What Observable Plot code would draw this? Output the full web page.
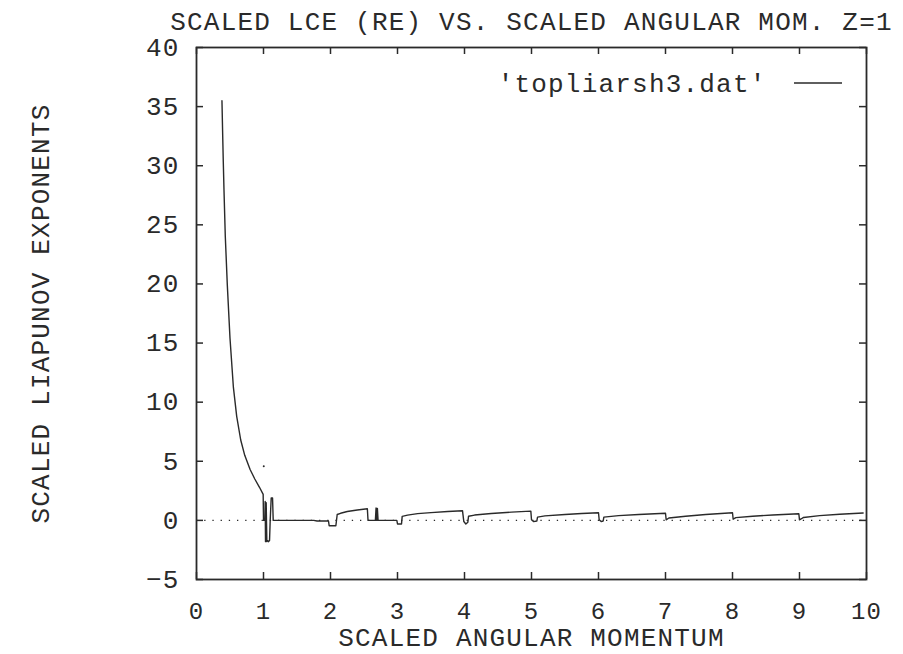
<!DOCTYPE html>
<html>
<head>
<meta charset="utf-8">
<script src="https://cdn.jsdelivr.net/npm/d3@7"></script>
<script src="https://cdn.jsdelivr.net/npm/@observablehq/plot@0.6"></script>
<style>
  body { margin: 0; background: #fff; }
  #chart svg { font-family: "Liberation Mono", "DejaVu Sans Mono", monospace; font-size: 26px; letter-spacing: 1.2px; color: #2a2a2a; }
</style>
</head>
<body>
<div id="chart"></div>
<script>
// Tick values on both axes
const xTicks = [0, 1, 2, 3, 4, 5, 6, 7, 8, 9, 10];
const yTicks = [-5, 0, 5, 10, 15, 20, 25, 30, 35, 40];

// Scaled angular momentum (x) and scaled Liapunov exponent (y), in plotting order
const momentum = [
  0.38, 0.39, 0.40, 0.41, 0.43, 0.46, 0.50, 0.55, 0.60, 0.66, 0.72, 0.80, 0.87, 0.94, 0.995,
  1.000, 1.020, 1.025, 1.030, 1.040, 1.050, 1.060, 1.075, 1.090, 1.100, 1.115, 1.135, 1.145,
  1.75, 1.80, 1.97, 1.98, 2.08, 2.10, 2.15, 2.25, 2.40, 2.55, 2.56, 2.67, 2.68, 2.69, 2.70, 2.71,
  2.99, 3.00, 3.06, 3.07, 3.15, 3.30, 3.50, 3.75, 3.97,
  3.99, 4.02, 4.05, 4.06, 4.15, 4.40, 4.70, 4.99,
  5.00, 5.03, 5.08, 5.09, 5.20, 5.50, 5.75, 6.00,
  6.01, 6.04, 6.07, 6.08, 6.30, 6.60, 7.00,
  7.01, 7.05, 7.30, 7.60, 8.00,
  8.01, 8.05, 8.30, 8.60, 8.99,
  9.00, 9.03, 9.06, 9.30, 9.60, 9.95
];
const lce = [
  35.5, 32.8, 30.3, 28.0, 24.0, 19.9, 15.4, 11.3, 8.8, 6.8, 5.5, 4.3, 3.5, 2.8, 2.2,
  0.0, 0.0, 1.6, -1.8, 1.5, -1.8, -1.7, -1.8, -1.7, 0.0, 1.9, 1.9, 0.0,
  0.0, -0.05, -0.05, -0.45, -0.45, 0.5, 0.6, 0.75, 0.88, 0.98, 0.0, 0.0, 1.05, 0.0, 1.0, 0.0,
  0.0, -0.3, -0.3, 0.34, 0.45, 0.57, 0.66, 0.75, 0.82,
  -0.1, -0.3, -0.15, 0.35, 0.45, 0.58, 0.7, 0.78,
  0.05, -0.1, -0.05, 0.28, 0.38, 0.5, 0.58, 0.65,
  0.06, -0.1, -0.05, 0.28, 0.4, 0.5, 0.6,
  0.05, 0.2, 0.35, 0.5, 0.65,
  0.1, 0.23, 0.35, 0.46, 0.56,
  0.05, 0.14, 0.25, 0.4, 0.52, 0.62
];

// A lone sample drawn as a point
const strayX = [1.004];
const strayY = [4.57];

const seriesName = "'topliarsh3.dat'";
const title = "SCALED LCE (RE) VS. SCALED ANGULAR MOM. Z=1";
const xLabel = "SCALED ANGULAR MOMENTUM";
const yLabel = "SCALED LIAPUNOV EXPONENTS";

const points = momentum.map((m, i) => ({m, v: lce[i]}));
const stray = strayX.map((m, i) => ({m, v: strayY[i]}));

const width = 903, height = 654;
const margin = {top: 47, right: 37, bottom: 75, left: 196};
const innerW = width - margin.left - margin.right;
const innerH = height - margin.top - margin.bottom;
const tick = 7;
const ink = "#2a2a2a";

// Legend sample line, placed relative to the frame
function legendSample(index, scales, values, dim) {
  const x2 = dim.width - dim.marginRight - 24;
  const y = dim.marginTop + 36;
  const line = d3.create("svg:line")
    .attr("x1", x2 - 48).attr("x2", x2)
    .attr("y1", y).attr("y2", y)
    .attr("stroke", ink).attr("stroke-width", 1.4);
  return line.node();
}

const chart = Plot.plot({
  width, height,
  marginTop: margin.top, marginRight: margin.right,
  marginBottom: margin.bottom, marginLeft: margin.left,
  x: {domain: [0, 10]},
  y: {domain: [-5, 40]},
  marks: [
    // dotted zero line
    Plot.ruleY([0], {stroke: ink, strokeWidth: 1.3, strokeDasharray: "1.3 6.9"}),
    // inward ticks on all four sides
    Plot.ruleX(xTicks, {stroke: ink, strokeWidth: 1.5, insetTop: innerH - tick}),
    Plot.ruleX(xTicks, {stroke: ink, strokeWidth: 1.5, insetBottom: innerH - tick}),
    Plot.ruleY(yTicks, {stroke: ink, strokeWidth: 1.5, insetRight: innerW - tick}),
    Plot.ruleY(yTicks, {stroke: ink, strokeWidth: 1.5, insetLeft: innerW - tick}),
    Plot.axisX(xTicks, {tickSize: 0, tickPadding: 22, label: null, fill: ink, fontSize: 24}),
    Plot.axisY(yTicks, {tickSize: 0, tickPadding: 17, label: null, fill: ink}),
    Plot.frame({stroke: ink, strokeWidth: 1.8}),
    Plot.line(points, {x: "m", y: "v", stroke: ink, strokeWidth: 1.4, curve: "linear"}),
    Plot.dot(stray, {x: "m", y: "v", r: 1, fill: ink, stroke: null}),
    // legend
    Plot.text([seriesName], {frameAnchor: "top-right", textAnchor: "end", lineAnchor: "middle", dx: -100, dy: 36, fill: ink}),
    legendSample,
    // titles
    Plot.text([title], {frameAnchor: "top", textAnchor: "middle", lineAnchor: "middle", dy: -26, fill: ink}),
    Plot.text([xLabel], {frameAnchor: "bottom", textAnchor: "middle", lineAnchor: "middle", dy: 58, fill: ink}),
    Plot.text([yLabel], {frameAnchor: "left", textAnchor: "middle", lineAnchor: "middle", dx: -156, rotate: -90, fill: ink})
  ]
});

document.getElementById("chart").append(chart);
</script>
</body>
</html>
